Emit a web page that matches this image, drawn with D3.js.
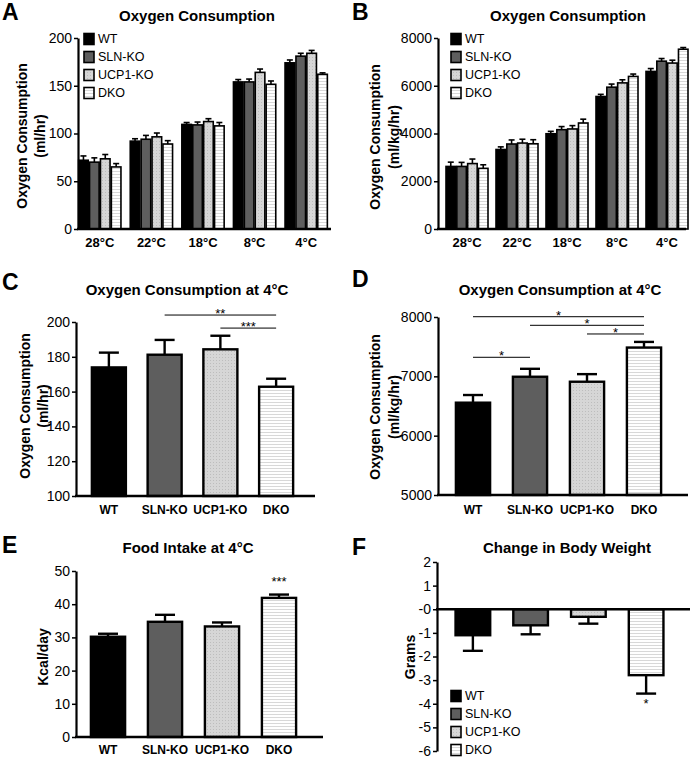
<!DOCTYPE html>
<html><head><meta charset="utf-8">
<script src="https://cdn.jsdelivr.net/npm/d3@7"></script>
<style>body{margin:0;background:#fff} svg{font-family:"Liberation Sans",Arial,Helvetica,sans-serif}</style>
</head><body><svg id="c" width="700" height="758"></svg>
<script>
// ---------- DATA ----------
const genotypes = ["WT","SLN-KO","UCP1-KO","DKO"];
const temps = ["28°C","22°C","18°C","8°C","4°C"];
// Panel A: oxygen consumption (ml/hr), rows = temperature, cols = genotype
const vo2A = [[72,70,73.5,65],[92,94,96.5,89],[109.5,109,112.5,108],[154,154,164,151.5],[174,181,184,162]];
const vo2AErr = [[4.5,4.5,4.5,3.5],[2.5,4,4,3.5],[2,3,3,3.5],[2.5,3,3.5,3.5],[3,3,3,1.5]];
const ticksA = [0,50,100,150,200];
// Panel B: oxygen consumption (ml/kg/hr)
const vo2B = [[2620,2620,2740,2540],[3330,3560,3600,3570],[3990,4160,4190,4440],[5550,5940,6120,6390],[6600,7030,6950,7530]];
const vo2BErr = [[180,170,190,150],[110,170,160,170],[100,130,140,160],[90,130,130,100],[120,110,120,70]];
const ticksB = [0,2000,4000,6000,8000];
// Panel C: oxygen consumption at 4°C (ml/hr)
const vo2C = [173.9,181.2,184.3,162.8];
const vo2CErr = [8.5,8.5,7.8,4.6];
const ticksC = [100,120,140,160,180,200];
const sigC = [{a:"SLN-KO",b:"DKO",label:"**",y:204},{a:"UCP1-KO",b:"DKO",label:"***",y:196.5}];
// Panel D: oxygen consumption at 4°C (ml/kg/hr)
const vo2D = [6556,6993,6909,7485];
const vo2DErr = [129,134,128,95];
const ticksD = [5000,6000,7000,8000];
const sigD = [{a:"WT",b:"DKO",label:"*",y:8005},{a:"SLN-KO",b:"DKO",label:"*",y:7860},{a:"UCP1-KO",b:"DKO",label:"*",y:7714},{a:"WT",b:"SLN-KO",label:"*",y:7321}];
// Panel E: food intake at 4°C (Kcal/day)
const foodE = [30.2,34.7,33.3,41.9];
const foodEErr = [0.9,2.1,1.2,1.0];
const ticksE = [0,10,20,30,40,50];
const sigE = [{g:"DKO",label:"***",y:45.4}];
// Panel F: change in body weight (grams)
const bwF = [-1.1,-0.68,-0.32,-2.79];
const bwFErr = [0.66,0.38,0.29,0.78];
const ticksF = [2,1,0,-1,-2,-3,-4,-5,-6];
const sigF = [{g:"DKO",label:"*",y:-4.2}];

// ---------- STYLE ----------
const fills = {"WT":"#000","SLN-KO":"#5e5e5e","UCP1-KO":"url(#dots)","DKO":"url(#stripes)"};
const svg = d3.select("#c");
const defs = svg.append("defs");
const pd = defs.append("pattern").attr("id","dots").attr("width",3).attr("height",3).attr("patternUnits","userSpaceOnUse");
pd.append("rect").attr("width",3).attr("height",3).attr("fill","#d6d6d6");
pd.append("rect").attr("width",1).attr("height",1).attr("fill","#bdbdbd");
const ps = defs.append("pattern").attr("id","stripes").attr("width",4).attr("height",3).attr("patternUnits","userSpaceOnUse");
ps.append("rect").attr("width",4).attr("height",3).attr("fill","#fff");
ps.append("rect").attr("width",4).attr("height",1).attr("fill","#d8d8d8");

function letter(t,x,y){ svg.append("text").attr("x",x).attr("y",y).attr("font-size",23).attr("font-weight","bold").text(t); }
function title(t,x,y){ svg.append("text").attr("x",x).attr("y",y).attr("text-anchor","middle").attr("font-size",15).attr("font-weight","bold").text(t); }
function ylabel(lines,x0,cy,gap){
  lines.forEach((l,i)=>{
    svg.append("text").attr("transform",`translate(${x0+i*gap},${cy}) rotate(-90)`)
      .attr("text-anchor","middle").attr("dominant-baseline","central")
      .attr("font-size",14).attr("font-weight","bold").text(l);
  });
}
function yAxis(y,x,ticks,fmt){
  const g = svg.append("g").attr("transform",`translate(${x},0)`)
    .call(d3.axisLeft(y).tickValues(ticks).tickSize(4).tickSizeOuter(0).tickPadding(2).tickFormat(fmt||(d=>d)));
  g.select(".domain").attr("stroke","#000").attr("stroke-width",2.2);
  g.selectAll(".tick line").attr("stroke-width",1.5);
  g.selectAll(".tick text").attr("font-size",14).attr("font-family",null).attr("fill","#000");
  return g;
}
function xLine(x0,x1,yy){ svg.append("line").attr("x1",x0-1).attr("x2",x1).attr("y1",yy).attr("y2",yy).attr("stroke","#000").attr("stroke-width",2.5); }
function xLabels(x,labels,yy,fs){
  svg.append("g").selectAll("text").data(labels).join("text")
    .attr("x",d=>x(d)+x.bandwidth()/2).attr("y",yy).attr("text-anchor","middle")
    .attr("font-size",fs).attr("font-weight","bold").text(d=>d);
}
function legend(x,y0,dy){
  const g = svg.append("g");
  genotypes.forEach((gn,i)=>{
    g.append("rect").attr("x",x).attr("y",y0+i*dy-5.5).attr("width",10).attr("height",11)
      .attr("fill",fills[gn]).attr("stroke","#000").attr("stroke-width",1.6);
    g.append("text").attr("x",x+14).attr("y",y0+i*dy).attr("dominant-baseline","central")
      .attr("font-size",12.5).text(gn);
  });
}
function bars(x,y,vals,errs,base,sw,cap,down){
  const g = svg.append("g");
  const bw = x.bandwidth();
  genotypes.forEach((gn,i)=>{
    const v = vals[i], e = errs[i];
    const x0 = x(gn);
    const tip = down ? v - e : v + e;
    g.append("line").attr("x1",x0+bw/2).attr("x2",x0+bw/2).attr("y1",y(v)).attr("y2",y(tip)).attr("stroke","#000").attr("stroke-width",sw);
    g.append("line").attr("x1",x0+bw/2-cap/2).attr("x2",x0+bw/2+cap/2).attr("y1",y(tip)).attr("y2",y(tip)).attr("stroke","#000").attr("stroke-width",sw);
    g.append("rect").attr("x",x0).attr("width",bw)
      .attr("y",Math.min(y(v),y(base))).attr("height",Math.abs(y(v)-y(base)))
      .attr("fill",fills[gn]).attr("stroke","#000").attr("stroke-width",sw);
  });
}
function groupedBars(xo,y,data,errs,sw,cap){
  temps.forEach((t,ti)=>{
    const xi = d3.scaleBand().domain(genotypes).range([xo(t),xo(t)+xo.bandwidth()]).paddingInner(0.12);
    const g = svg.append("g");
    genotypes.forEach((gn,i)=>{
      const v = data[ti][i], e = errs[ti][i], cx = xi(gn)+xi.bandwidth()/2;
      g.append("line").attr("x1",cx).attr("x2",cx).attr("y1",y(v)).attr("y2",y(v+e)).attr("stroke","#000").attr("stroke-width",sw);
      g.append("line").attr("x1",cx-cap/2).attr("x2",cx+cap/2).attr("y1",y(v+e)).attr("y2",y(v+e)).attr("stroke","#000").attr("stroke-width",sw);
      g.append("rect").attr("x",xi(gn)).attr("width",xi.bandwidth()).attr("y",y(v)).attr("height",y(0)-y(v))
        .attr("fill",fills[gn]).attr("stroke","#000").attr("stroke-width",sw);
    });
  });
}
function sigLines(x,y,list,fs){
  list.forEach(s=>{
    const xa = x(s.a)+x.bandwidth()/2, xb = x(s.b)+x.bandwidth()/2;
    svg.append("line").attr("x1",xa).attr("x2",xb).attr("y1",y(s.y)).attr("y2",y(s.y)).attr("stroke","#000").attr("stroke-width",1);
    svg.append("text").attr("x",(xa+xb)/2).attr("y",y(s.y)+3).attr("text-anchor","middle").attr("font-size",fs).text(s.label);
  });
}
function sigMarks(x,y,list,fs){
  list.forEach(s=>{
    svg.append("text").attr("x",x(s.g)+x.bandwidth()/2).attr("y",y(s.y)).attr("text-anchor","middle").attr("font-size",fs).text(s.label);
  });
}

// ---------- PANEL A ----------
{
  const y = d3.scaleLinear().domain([0,200]).range([229,38]);
  const x = d3.scaleBand().domain(temps).range([74,332]).paddingInner(0.18).paddingOuter(0.09);
  letter("A",2,20); title("Oxygen Consumption",197,21);
  groupedBars(x,y,vo2A,vo2AErr,1.6,6);
  yAxis(y,78,ticksA); xLine(78,331,229);
  xLabels(x,temps,247,13);
  ylabel(["Oxygen Consumption","(ml/hr)"],22,136,18);
  legend(84,39,18);
}
// ---------- PANEL B ----------
{
  const y = d3.scaleLinear().domain([0,8000]).range([229,38]);
  const x = d3.scaleBand().domain(temps).range([442,692]).paddingInner(0.16).paddingOuter(0.08);
  letter("B",352,20); title("Oxygen Consumption",568,21);
  groupedBars(x,y,vo2B,vo2BErr,1.6,6);
  yAxis(y,438,ticksB); xLine(438,686,229);
  xLabels(x,temps,247,13);
  ylabel(["Oxygen Consumption","(ml/kg/hr)"],375,137,19);
  legend(451,39,18);
}
// ---------- PANEL C ----------
{
  const y = d3.scaleLinear().domain([100,200]).range([496,322]);
  const x = d3.scaleBand().domain(genotypes).range([81,304]).paddingInner(0.39).paddingOuter(0.195);
  letter("C",2,290); title("Oxygen Consumption at 4°C",187,295);
  bars(x,y,vo2C,vo2CErr,100,2.4,20,false);
  yAxis(y,76,ticksC); xLine(76,315,496);
  xLabels(x,genotypes,514,12);
  sigLines(x,y,sigC,13);
  ylabel(["Oxygen Consumption","(ml/hr)"],25,406,18);
}
// ---------- PANEL D ----------
{
  const y = d3.scaleLinear().domain([5000,8000]).range([495,317]);
  const x = d3.scaleBand().domain(genotypes).range([444.5,672.5]).paddingInner(0.4).paddingOuter(0.2);
  letter("D",352,287); title("Oxygen Consumption at 4°C",560,295);
  bars(x,y,vo2D,vo2DErr,5000,2.4,20,false);
  yAxis(y,438,ticksD); xLine(438,688,495);
  xLabels(x,genotypes,514,12);
  sigLines(x,y,sigD,13);
  ylabel(["Oxygen Consumption","(ml/kg/hr)"],375,407,19);
}
// ---------- PANEL E ----------
{
  const y = d3.scaleLinear().domain([0,50]).range([737,571]);
  const x = d3.scaleBand().domain(genotypes).range([79.5,307.5]).paddingInner(0.4).paddingOuter(0.2);
  letter("E",2,553); title("Food Intake at 4°C",188,553);
  bars(x,y,foodE,foodEErr,0,2.4,20,false);
  yAxis(y,76,ticksE); xLine(76,323,737);
  xLabels(x,genotypes,754,12);
  sigMarks(x,y,sigE,13);
  ylabel(["Kcal/day"],43,657,0);
}
// ---------- PANEL F ----------
{
  const y = d3.scaleLinear().domain([-6,2]).range([751,562]);
  const x = d3.scaleBand().domain(genotypes).range([444,675]).paddingInner(0.4).paddingOuter(0.2);
  letter("F",352,555); title("Change in Body Weight",567,553);
  bars(x,y,bwF,bwFErr,0,2.4,20,true);
  yAxis(y,437,ticksF,d=>d===0?"-0":d); xLine(437,690,y(0));
  sigMarks(x,y,sigF,13);
  ylabel(["Grams"],410,657,0);
  legend(451,696,18);
}
</script></body></html>
